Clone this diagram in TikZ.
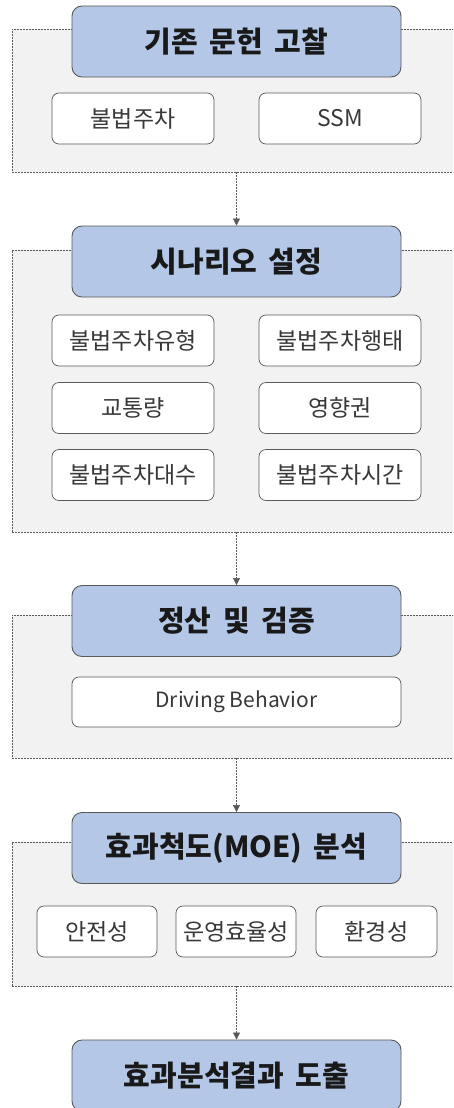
\documentclass[tikz,border=0pt]{standalone}
\usepackage{fontspec}
\setmainfont{Noto Sans CJK KR}
\usetikzlibrary{arrows.meta,positioning}

\definecolor{headblue}{HTML}{B4C7E7}
\definecolor{linegray}{HTML}{595959}
\definecolor{panelgray}{HTML}{F2F2F2}

\begin{document}
\begin{tikzpicture}[x=1pt, y=-1pt,
  head/.style={draw=linegray, line width=0.9pt, fill=headblue, rounded corners=10pt, minimum width=329pt, minimum height=71pt, inner sep=0pt, text=black!90, font=\fontsize{29}{34}\selectfont\bfseries},
  item/.style={draw=linegray, line width=0.7pt, fill=white, rounded corners=7pt, minimum width=162pt, minimum height=51pt, inner sep=0pt, text=black!78, font=\fontsize{23}{27}\selectfont},
  panel/.style={draw=linegray, dash pattern=on 2pt off 1pt, line width=0.6pt, fill=panelgray, minimum width=460pt, inner sep=0pt},
  flow/.style={draw=linegray, dash pattern=on 2pt off 1pt, line width=0.6pt, -{Triangle[length=7pt,width=7pt]}}]
\useasboundingbox (0,0) rectangle (453,1108);
\clip (0,0) rectangle (453,1108);

% panels
\node[panel, minimum height=143pt] (panelA) at (242,100.5) {};
\node[panel, minimum height=282pt] (panelB) at (242,391) {};
\node[panel, minimum height=143pt] (panelC) at (242,686.5) {};
\node[panel, minimum height=144pt] (panelD) at (242,914) {};

% literature review
\node[item] (parking) at (133,118.5) {불법주차};
\node[item] (ssm) at (340,118.5) {SSM};
\node[head] (review) at (236.5,41.5) {기존\hspace{0.4em}문헌\hspace{0.4em}고찰};

% scenario
\node[item] (ptype) at (133,340.5) {불법주차유형};
\node[item] (pbehav) at (340,340.5) {불법주차행태};
\node[item] (volume) at (133,408) {교통량};
\node[item] (impact) at (340,408) {영향권};
\node[item] (pcount) at (133,475) {불법주차대수};
\node[item] (ptime) at (340,475) {불법주차시간};
\node[head] (scenario) at (236.5,261.5) {시나리오\hspace{0.4em}설정};

% calibration
\node[item, minimum width=329pt, minimum height=50pt, font=\fontsize{21}{25}\selectfont] (driving) at (236.5,702) {Driving Behavior};
\node[head] (calib) at (236.5,621) {정산\hspace{0.4em}및\hspace{0.4em}검증};

% MOE
\node[item, minimum width=120pt] (safety) at (97,931.5) {안전성};
\node[item, minimum width=120pt] (effic) at (236,931.5) {운영효율성};
\node[item, minimum width=121pt] (envir) at (376.5,931.5) {환경성};
\node[head] (moe) at (236.5,848) {효과척도(MOE)\hspace{0.4em}분석};

% result
\node[head] (result) at (236.5,1075.5) {효과분석결과\hspace{0.4em}도출};

% connectors
\draw[flow] (review |- panelA.south) -- (scenario.north);
\draw[flow] (scenario |- panelB.south) -- (calib.north);
\draw[flow] (calib |- panelC.south) -- (moe.north);
\draw[flow] (moe |- panelD.south) -- (result.north);
\end{tikzpicture}
\end{document}
